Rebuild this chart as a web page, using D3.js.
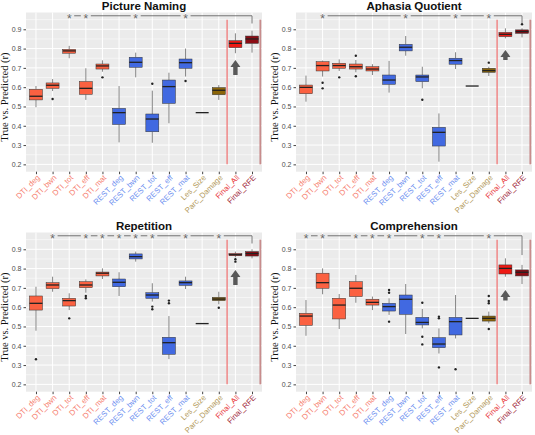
<!DOCTYPE html>
<html><head><meta charset="utf-8">
<script src="https://cdn.jsdelivr.net/npm/d3@7"></script>
<style>body{margin:0;background:#fff}svg{display:block}</style>
</head><body><svg id="c" width="535" height="435"></svg>
<script>
// ---------- data ----------
const categories = ["DTI_deg","DTI_bwn","DTI_tot","DTI_eff","DTI_mat","REST_deg","REST_bwn","REST_tot","REST_eff","REST_mat","Les_Size","Parc_Damage","Final_All","Final_RFE"];
const panelTitles = ["Picture Naming","Aphasia Quotient","Repetition","Comprehension"];
const yTicks = [0.2,0.3,0.4,0.5,0.6,0.7,0.8,0.9];
const yLabel = "True vs. Predicted (r)";

// five-number summaries: [lower whisker, q1, median, q3, upper whisker]
const pictureNaming = [
  [0.496,0.534,0.553,0.589,0.606],[0.58,0.594,0.61,0.622,0.642],[0.75,0.776,0.788,0.796,0.814],
  [0.534,0.563,0.594,0.629,0.698],[0.68,0.694,0.71,0.72,0.739],[0.314,0.407,0.468,0.49,0.606],
  [0.651,0.703,0.729,0.755,0.779],[0.312,0.369,0.435,0.461,0.582],[0.413,0.516,0.603,0.637,0.675],
  [0.655,0.698,0.727,0.746,0.8],[0.468,0.468,0.468,0.468,0.468],[0.534,0.561,0.584,0.598,0.611],
  [0.776,0.805,0.827,0.841,0.879],[0.779,0.827,0.85,0.865,0.893]];
const pictureNamingOutliers = [[],[0.539],[],[],[0.651],[],[],[0.618],[],[0.632],[],[],[],[]];

const aphasiaQuotient = [
  [0.525,0.566,0.599,0.611,0.66],[0.655,0.684,0.712,0.732,0.738],[0.684,0.698,0.712,0.724,0.744],
  [0.677,0.694,0.706,0.72,0.741],[0.663,0.684,0.694,0.706,0.719],[0.572,0.615,0.637,0.663,0.736],
  [0.763,0.788,0.807,0.822,0.865],[0.594,0.629,0.653,0.663,0.706],[0.214,0.295,0.366,0.392,0.464],
  [0.694,0.719,0.738,0.75,0.781],[0.606,0.606,0.606,0.606,0.606],[0.658,0.677,0.686,0.698,0.706],
  [0.853,0.862,0.874,0.884,0.905],[0.858,0.879,0.888,0.897,0.905]];
const aphasiaQuotientOutliers = [[],[0.623,0.594],[0.651],[0.763,0.657],[],[],[],[0.535],[],[],[],[0.727],[],[0.926]];

const repetition = [
  [0.478,0.585,0.62,0.658,0.706],[0.68,0.696,0.715,0.727,0.758],[0.585,0.606,0.634,0.646,0.672],
  [0.675,0.701,0.715,0.732,0.744],[0.746,0.762,0.776,0.782,0.801],[0.658,0.706,0.729,0.746,0.781],
  [0.836,0.85,0.862,0.876,0.888],[0.629,0.646,0.663,0.675,0.724],[0.331,0.356,0.416,0.444,0.554],
  [0.694,0.713,0.727,0.736,0.758],[0.515,0.515,0.515,0.515,0.515],[0.615,0.634,0.642,0.651,0.68],
  [0.858,0.867,0.872,0.878,0.888],[0.853,0.865,0.878,0.888,0.9]];
const repetitionOutliers = [[0.33],[],[0.542],[0.658,0.646],[],[],[],[0.603,0.589],[0.634,0.62],[],[],[0.597],[0.848,0.836],[]];

const comprehension = [
  [0.452,0.506,0.554,0.568,0.637],[0.667,0.698,0.727,0.776,0.801],[0.487,0.539,0.611,0.646,0.668],
  [0.623,0.655,0.698,0.732,0.767],[0.585,0.611,0.625,0.641,0.655],[0.56,0.58,0.603,0.62,0.646],
  [0.461,0.563,0.641,0.663,0.72],[0.49,0.508,0.521,0.547,0.591],[0.36,0.39,0.409,0.442,0.49],
  [0.438,0.456,0.525,0.547,0.663],[0.542,0.542,0.542,0.542,0.542],[0.516,0.528,0.542,0.554,0.577],
  [0.758,0.772,0.801,0.819,0.853],[0.72,0.762,0.781,0.793,0.819]];
const comprehensionOutliers = [[],[],[],[],[],[0.689,0.675,0.525],[],[0.623,0.447,0.407],[0.551,0.542,0.288],[0.278],[],[0.62,0.632,0.658,0.487],[],[]];

// significance stars (category indices) and bracket drop end
const pictureNamingStars = [2,3,6,9];
const aphasiaQuotientStars = [1,6,9,11];
const repetitionStars = [1,3,4,5,6,7,9,11];
const comprehensionStars = [0,1,3,4,5,7,8,11];
const bracketEnds = [0.93,0.93,0.93,0.87];
// arrow under Final_All: [base, tip]
const arrowSpans = [[0.663,0.741],[0.741,0.793],[0.715,0.793],[0.634,0.689]];

const groupOf = ["dti","dti","dti","dti","dti","rest","rest","rest","rest","rest","les","les","all","rfe"];
const fillColors = {dti:"#fb6141", rest:"#4169e1", les:"#8b6508", all:"#ee1a14", rfe:"#8c0c14"};
const labelColors = {dti:"#f6806f", rest:"#6d8ff0", les:"#b39a5a", all:"#e8343a", rfe:"#a0283a"};

const panelData = [
  {title:panelTitles[0], stats:pictureNaming, out:pictureNamingOutliers, stars:pictureNamingStars},
  {title:panelTitles[1], stats:aphasiaQuotient, out:aphasiaQuotientOutliers, stars:aphasiaQuotientStars},
  {title:panelTitles[2], stats:repetition, out:repetitionOutliers, stars:repetitionStars},
  {title:panelTitles[3], stats:comprehension, out:comprehensionOutliers, stars:comprehensionStars}
];
const frames = [
  {x0:26, x1:262, y0:12.5, y1:171.7},
  {x0:296, x1:532, y0:12.5, y1:171.7},
  {x0:26, x1:262, y0:232.5, y1:391.7},
  {x0:296, x1:532, y0:232.5, y1:391.7}
];

const svg = d3.select("#c");
const font = "'Liberation Sans', Arial, sans-serif";

panelData.forEach((p, pi) => {
  const f = frames[pi];
  const g = svg.append("g");
  const x = d3.scalePoint().domain(categories).range([f.x0, f.x1]).padding(0.6);
  const y = d3.scaleLinear().domain([0.162, 0.987]).range([f.y1, f.y0]);
  const bw = x.step() * 0.78;

  // background + grid
  g.append("rect").attr("x", f.x0).attr("y", f.y0).attr("width", f.x1 - f.x0).attr("height", f.y1 - f.y0).attr("fill", "#ebebeb");
  const minor = yTicks.map(t => t + 0.05);
  g.selectAll(".mn").data(minor).join("line")
    .attr("x1", f.x0).attr("x2", f.x1).attr("y1", d => y(d)).attr("y2", d => y(d))
    .attr("stroke", "#fff").attr("stroke-width", 0.5);
  g.selectAll(".mj").data(yTicks).join("line")
    .attr("x1", f.x0).attr("x2", f.x1).attr("y1", d => y(d)).attr("y2", d => y(d))
    .attr("stroke", "#fff").attr("stroke-width", 1);
  g.selectAll(".vx").data(categories).join("line")
    .attr("x1", d => x(d)).attr("x2", d => x(d)).attr("y1", f.y0).attr("y2", f.y1)
    .attr("stroke", "#fff").attr("stroke-width", 1);

  // y axis
  const ya = g.append("g").attr("transform", `translate(${f.x0},0)`)
    .call(d3.axisLeft(y).tickValues(yTicks).tickSize(2.5).tickPadding(2).tickFormat(d3.format(".1f")));
  ya.select(".domain").remove();
  ya.selectAll("line").attr("stroke", "#444");
  ya.selectAll("text").attr("fill", "#4d4d4d").style("font-size", "7px").style("font-family", font);

  // x axis
  const xa = g.append("g").attr("transform", `translate(0,${f.y1})`)
    .call(d3.axisBottom(x).tickSize(2.5).tickFormat(""));
  xa.select(".domain").remove();
  xa.selectAll("line").attr("stroke", "#444");
  g.selectAll(".xl").data(categories).join("text")
    .attr("transform", d => `translate(${x(d) + 3},${f.y1 + 5}) rotate(-45)`)
    .attr("text-anchor", "end").attr("dominant-baseline", "middle")
    .style("font-size", "7.8px").style("font-family", font)
    .attr("fill", (d, i) => labelColors[groupOf[i]]).text(d => d);

  // separator lines
  g.append("line").attr("x1", x(categories[11]) + x.step() / 2).attr("x2", x(categories[11]) + x.step() / 2)
    .attr("y1", y(0.2)).attr("y2", y(0.95)).attr("stroke", "#f08080").attr("stroke-width", 1.4);
  g.append("line").attr("x1", x(categories[13]) + x.step() / 2).attr("x2", x(categories[13]) + x.step() / 2)
    .attr("y1", y(0.2)).attr("y2", y(0.95)).attr("stroke", "#c88c8c").attr("stroke-width", 1.8);

  // boxes
  p.stats.forEach((s, i) => {
    const cx = x(categories[i]);
    const col = fillColors[groupOf[i]];
    g.append("line").attr("x1", cx).attr("x2", cx).attr("y1", y(s[3])).attr("y2", y(s[4])).attr("stroke", "#666").attr("stroke-width", 0.8);
    g.append("line").attr("x1", cx).attr("x2", cx).attr("y1", y(s[1])).attr("y2", y(s[0])).attr("stroke", "#666").attr("stroke-width", 0.8);
    g.append("rect").attr("x", cx - bw / 2).attr("width", bw)
      .attr("y", y(s[3])).attr("height", Math.max(0, y(s[1]) - y(s[3])))
      .attr("fill", col).attr("stroke", "#333").attr("stroke-width", 0.5);
    g.append("line").attr("x1", cx - bw / 2).attr("x2", cx + bw / 2).attr("y1", y(s[2])).attr("y2", y(s[2]))
      .attr("stroke", "#222").attr("stroke-width", 1.3);
    p.out[i].forEach(o => {
      g.append("circle").attr("cx", cx).attr("cy", y(o)).attr("r", 1.2).attr("fill", "#222");
    });
  });

  // arrow under Final_All
  const ax = x(categories[12]);
  const [ab, at] = arrowSpans[pi];
  const yb = y(ab), yt = y(at), hh = 7, hw = 5, sw = 2.2;
  g.append("path").attr("d", `M${ax},${yt} L${ax + hw},${yt + hh} L${ax + sw},${yt + hh} L${ax + sw},${yb} L${ax - sw},${yb} L${ax - sw},${yt + hh} L${ax - hw},${yt + hh} Z`)
    .attr("fill", "#595959");

  // significance bracket
  const sy = y(0.97);
  const starsX = p.stars.map(i => x(categories[i]));
  const lastX = x(categories[13]);
  const pts = starsX.concat([lastX]);
  for (let k = 0; k < pts.length - 1; k++) {
    const a = pts[k] + 5, b = k === pts.length - 2 ? pts[k + 1] : pts[k + 1] - 5;
    g.append("line").attr("x1", a).attr("x2", b).attr("y1", sy).attr("y2", sy).attr("stroke", "#666").attr("stroke-width", 0.9);
  }
  g.append("line").attr("x1", lastX).attr("x2", lastX).attr("y1", sy).attr("y2", y(bracketEnds[pi])).attr("stroke", "#666").attr("stroke-width", 0.9);
  g.selectAll(".st").data(starsX).join("text")
    .attr("x", d => d).attr("y", sy + 7).attr("text-anchor", "middle")
    .style("font-size", "12px").style("font-family", font).attr("fill", "#666").text("*");

  // title
  g.append("text").attr("x", (f.x0 + f.x1) / 2).attr("y", f.y0 - 3).attr("text-anchor", "middle")
    .style("font-size", "11.5px").style("font-weight", "bold").style("font-family", font).attr("fill", "#111").text(p.title);

  // y label
  g.append("text").attr("transform", `translate(${f.x0 - 20},${(f.y0 + f.y1) / 2 + 5}) rotate(-90)`)
    .attr("text-anchor", "middle").attr("dominant-baseline", "middle")
    .style("font-size", "10.5px").style("font-family", "'Liberation Serif', 'Times New Roman', serif").attr("fill", "#111").text(yLabel);
});
</script></body></html>
